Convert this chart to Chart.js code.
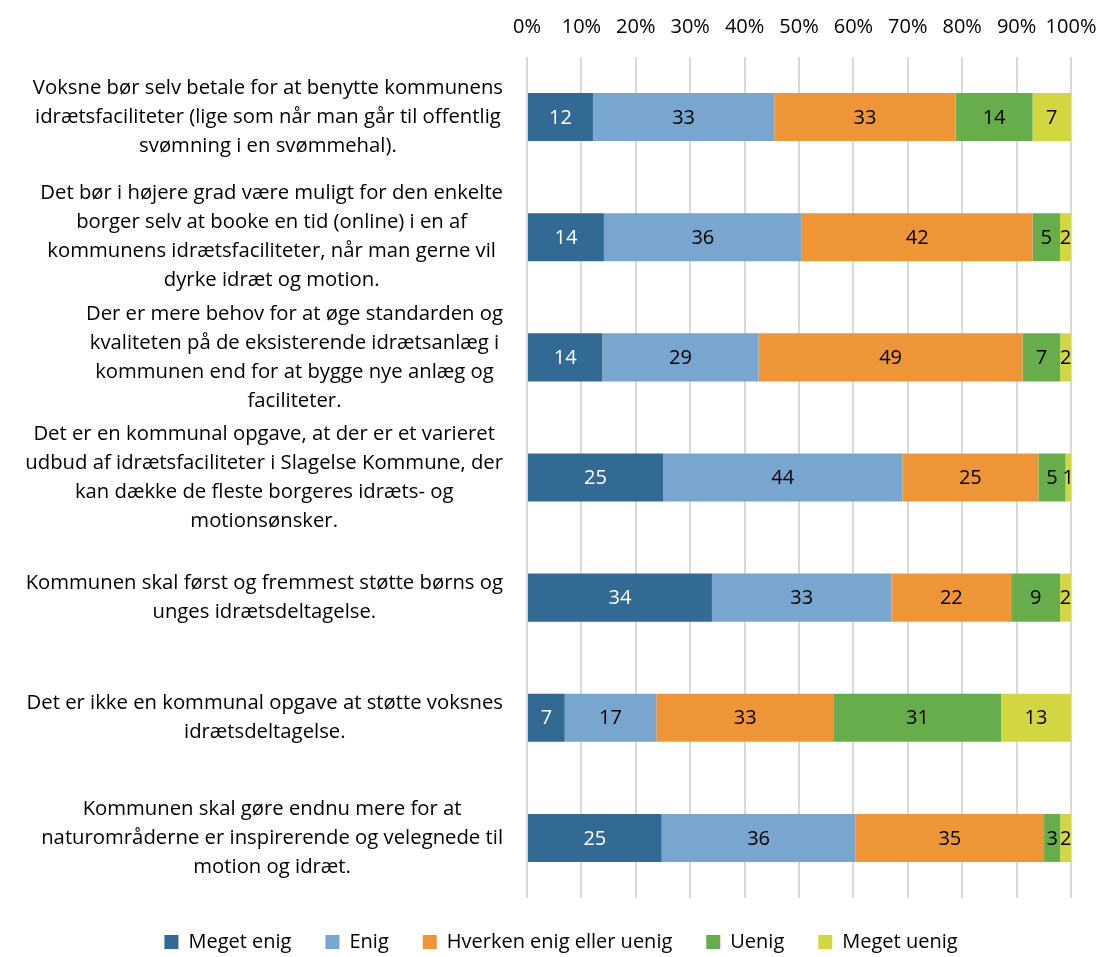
<!DOCTYPE html>
<html>
<head>
<meta charset="utf-8">
<script src="https://cdn.jsdelivr.net/npm/chart.js@4.4.1/dist/chart.umd.min.js"></script>
<style>
  html, body { margin: 0; padding: 0; background: #fff; }
  #wrap { width: 1099px; height: 957px; position: relative; }
</style>
</head>
<body>
<div id="wrap"><canvas id="surveyChart"></canvas></div>
<script>
// statements (one per bar), split into the lines they are printed on
const questions = [
  ["Voksne bør selv betale for at benytte kommunens", "idrætsfaciliteter (lige som når man går til offentlig", "svømning i en svømmehal)."],
  ["Det bør i højere grad være muligt for den enkelte", "borger selv at booke en tid (online) i en af", "kommunens idrætsfaciliteter, når man gerne vil", "dyrke idræt og motion."],
  ["Der er mere behov for at øge standarden og", "kvaliteten på de eksisterende idrætsanlæg i", "kommunen end for at bygge nye anlæg og", "faciliteter."],
  ["Det er en kommunal opgave, at der er et varieret", "udbud af idrætsfaciliteter i Slagelse Kommune, der", "kan dække de fleste borgeres idræts- og", "motionsønsker."],
  ["Kommunen skal først og fremmest støtte børns og", "unges idrætsdeltagelse."],
  ["Det er ikke en kommunal opgave at støtte voksnes", "idrætsdeltagelse."],
  ["Kommunen skal gøre endnu mere for at", "naturområderne er inspirerende og velegnede til", "motion og idræt."]
];

const answers = ["Meget enig", "Enig", "Hverken enig eller uenig", "Uenig", "Meget uenig"];

// answer shares in percent
const megetEnig  = [12, 14, 14, 25, 34, 7, 25];
const enig       = [33, 36, 29, 44, 33, 17, 36];
const hverken    = [33, 42, 49, 25, 22, 33, 35];
const uenig      = [14, 5, 7, 5, 9, 31, 3];
const megetUenig = [7, 2, 2, 1, 2, 13, 2];

const xTicks = [0, 10, 20, 30, 40, 50, 60, 70, 80, 90, 100];

const colors = ["#336a93", "#79a6ce", "#ee9537", "#68ad4c", "#d2d741"];
const FONT = '"Open Sans", sans-serif';

const series = [megetEnig, enig, hverken, uenig, megetUenig];
// 100% stacked: each row is scaled so that its parts fill the bar
const rowTotals = questions.map((q, i) => series.reduce((s, arr) => s + arr[i], 0));

const datasets = series.map((arr, k) => ({
  label: answers[k],
  counts: arr,
  data: arr.map((v, i) => v / rowTotals[i] * 100),
  backgroundColor: colors[k],
  borderWidth: 0,
  categoryPercentage: 1,
  barPercentage: 0.4
}));

// value printed in the middle of each segment
const segmentLabels = {
  id: "segmentLabels",
  afterDatasetsDraw(chart) {
    const ctx = chart.ctx;
    ctx.save();
    ctx.font = "20px " + FONT;
    ctx.textAlign = "center";
    ctx.textBaseline = "middle";
    chart.data.datasets.forEach((ds, di) => {
      chart.getDatasetMeta(di).data.forEach((bar, i) => {
        const p = bar.getCenterPoint();
        ctx.fillStyle = di === 0 ? "#ffffff" : "#000000";
        ctx.fillText(ds.counts[i], p.x, p.y + 1);
      });
    });
    ctx.restore();
  }
};

// multi-line statements, each block centred on its own widest line
const questionLabels = {
  id: "questionLabels",
  afterDraw(chart) {
    const { ctx, chartArea, scales } = chart;
    const lineHeight = 29;
    ctx.save();
    ctx.font = "20.3px " + FONT;
    ctx.fillStyle = "#000000";
    ctx.textAlign = "center";
    ctx.textBaseline = "middle";
    questions.forEach((lines, i) => {
      const widest = Math.max(...lines.map(l => ctx.measureText(l).width));
      const cx = chartArea.left - 24 - widest / 2;
      const top = scales.y.getPixelForValue(i) - (lines.length - 1) * lineHeight / 2;
      lines.forEach((l, k) => ctx.fillText(l, cx, top + k * lineHeight));
    });
    ctx.restore();
  }
};

new Chart(document.getElementById("surveyChart"), {
  type: "bar",
  data: {
    labels: questions,
    datasets: datasets
  },
  options: {
    indexAxis: "y",
    responsive: true,
    maintainAspectRatio: false,
    animation: false,
    layout: { padding: { top: 12, right: 0, left: 23, bottom: 0 } },
    plugins: {
      tooltip: { enabled: false },
      legend: {
        position: "bottom",
        maxHeight: 59,
        labels: {
          boxWidth: 14,
          boxHeight: 14,
          padding: 34,
          color: "#000000",
          font: { family: FONT, size: 20 }
        }
      }
    },
    scales: {
      x: {
        position: "top",
        stacked: true,
        min: 0,
        max: 100,
        afterBuildTicks: scale => { scale.ticks = xTicks.map(v => ({ value: v })); },
        afterFit: scale => {
          scale.height = 45;
          scale.paddingLeft = 0;
          scale.paddingRight = 28;
        },
        ticks: {
          padding: 18,
          maxRotation: 0,
          minRotation: 0,
          autoSkip: false,
          color: "#000000",
          font: { family: FONT, size: 20 },
          callback: v => v + "%"
        },
        grid: { color: "#d9d9d9", lineWidth: 2, drawTicks: false },
        border: { display: false }
      },
      y: {
        stacked: true,
        afterFit: scale => { scale.width = 504; },
        ticks: { display: false },
        grid: { display: false },
        border: { display: false }
      }
    }
  },
  plugins: [segmentLabels, questionLabels]
});
</script>
</body>
</html>
